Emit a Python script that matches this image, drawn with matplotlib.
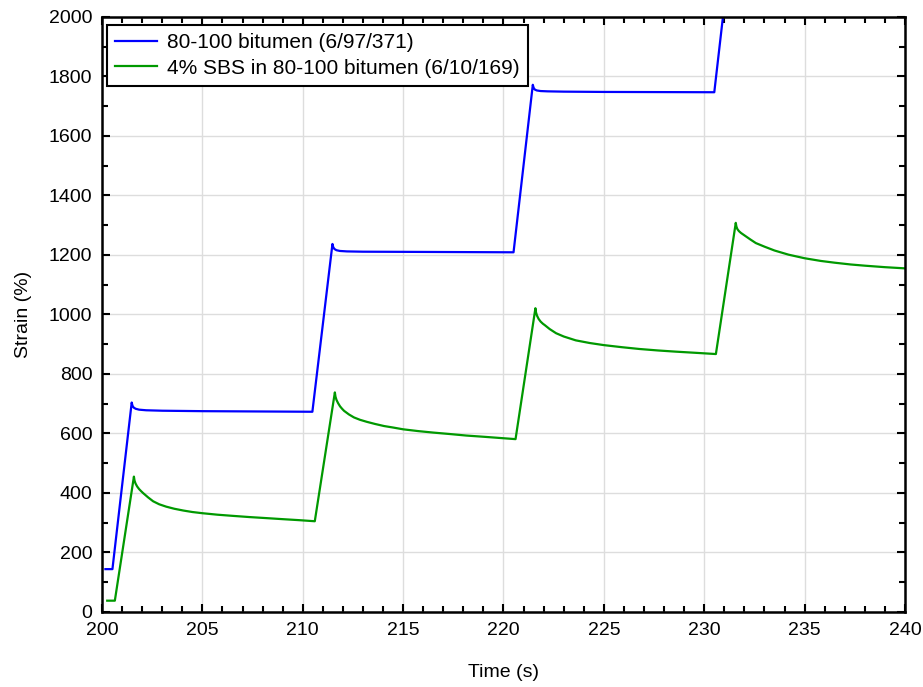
import matplotlib
matplotlib.use("Agg")
import matplotlib.pyplot as plt
from matplotlib.ticker import MultipleLocator

plt.rcParams['font.family'] = ['Liberation Sans', 'DejaVu Sans']

# 80-100 bitumen
t_blue = [200.17, 200.52,
          201.48, 201.52, 201.58, 201.68, 201.85, 202.2, 203.0, 205.0, 210.48,
          211.48, 211.52, 211.58, 211.68, 211.85, 212.2, 213.0, 215.0, 220.5,
          221.46, 221.5, 221.56, 221.66, 221.85, 222.2, 223.0, 225.0, 230.5,
          231.46]
s_blue = [144, 144,
          704, 693, 687, 683, 680, 678, 676.5, 675, 673,
          1237, 1226, 1220, 1216, 1213.5, 1212, 1211, 1210.5, 1209,
          1772, 1762, 1756, 1753, 1751, 1750, 1749, 1748, 1747,
          2310]

# 4% SBS in 80-100 bitumen
t_green = [200.26, 200.64,
           201.59, 201.62, 201.67, 201.75, 201.85, 201.95, 202.06, 202.3, 202.55, 202.85,
           203.2, 203.6, 204.05, 204.5, 205.0, 205.75, 206.53, 207.35, 208.19, 209.0,
           209.85, 210.6,
           211.6, 211.63, 211.68, 211.76, 211.86, 211.96, 212.06, 212.3, 212.55, 212.85,
           213.2, 213.6, 214.05, 214.5, 215.0, 215.75, 216.5, 217.35, 218.15, 219.0,
           219.8, 220.6,
           221.59, 221.62, 221.67, 221.75, 221.85, 221.96, 222.06, 222.3, 222.62, 223.0,
           223.6, 224.3, 225.0, 225.9, 226.77, 227.7, 228.59, 229.6, 230.58,
           231.57, 231.6, 231.65, 231.73, 231.83, 232.0, 232.3, 232.57, 233.0, 233.5,
           234.2, 235.0, 235.8, 236.5, 237.3, 238.0, 239.0, 240.0]
s_green = [38, 38,
           455, 442, 432, 422, 413, 406, 399, 385, 372, 362,
           354, 347, 341, 336, 332, 327, 323, 319, 315.5, 312,
           308.5, 305,
           738, 724, 713, 702, 691, 683, 676, 664, 654, 646,
           639, 632, 625, 620, 614, 608, 603, 598, 593, 589,
           585, 581,
           1021, 1007, 996, 985, 976, 969, 964, 951, 937, 926,
           913, 904, 897, 890, 884, 879, 875, 871, 867,
           1308, 1296, 1287, 1280, 1274, 1266, 1252, 1240, 1228, 1215,
           1201, 1189, 1180, 1174, 1168, 1164, 1159, 1155]

fig = plt.figure(figsize=(9.23, 6.87), dpi=100)
ax = fig.add_axes([0.1105, 0.1092, 0.8700, 0.8661])

ax.plot(t_blue, s_blue, color='#0000ff', lw=1.6, label='80-100 bitumen (6/97/371)')
ax.plot(t_green, s_green, color='#009900', lw=1.6, label='4% SBS in 80-100 bitumen (6/10/169)')

ax.set_xlim(200, 240)
ax.set_ylim(0, 2000)
ax.xaxis.set_major_locator(MultipleLocator(5))
ax.xaxis.set_minor_locator(MultipleLocator(1))
ax.yaxis.set_major_locator(MultipleLocator(200))
ax.yaxis.set_minor_locator(MultipleLocator(100))
ax.grid(True, which='major', color='#dddddd', lw=1.0)
ax.set_axisbelow(True)
ax.tick_params(which='both', direction='in', top=True, right=True, labelsize=14, width=1.5, colors='black')
ax.tick_params(which='major', length=6, pad=7)
ax.tick_params(which='minor', length=4)
for sp in ax.spines.values():
    sp.set_linewidth(1.8)

ax.set_xlabel('Time (s)', fontsize=14, labelpad=18)
ax.set_ylabel('Strain (%)', fontsize=14, labelpad=12)

leg = ax.legend(loc='upper left', bbox_to_anchor=(0.0062, 0.9866), borderaxespad=0,
                fontsize=15, fancybox=False, framealpha=1, edgecolor='black',
                handlelength=2.0, handletextpad=0.5, borderpad=0.4, labelspacing=0.3)
leg.get_frame().set_linewidth(1.5)

fig.savefig('out.png', dpi=100)
